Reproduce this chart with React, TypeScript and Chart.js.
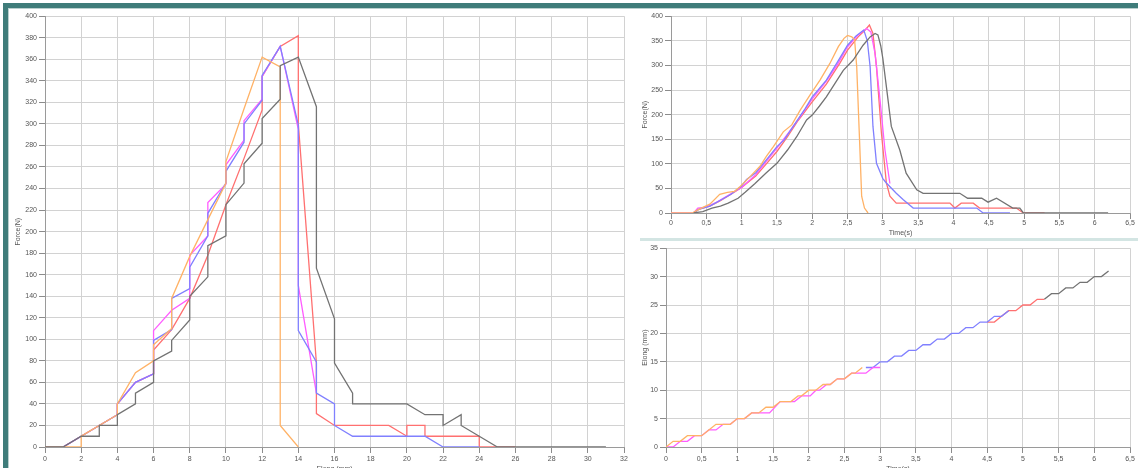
import React, { useEffect, useRef } from 'react';
import { Chart, registerables } from 'chart.js';

Chart.register(...registerables);

type Pt = [number, number];

const FONT = 'Liberation Sans, Arial, sans-serif';

const GRAY = '#737373';
const ORANGE = '#ffb266';
const BLUE = '#8080ff';
const MAGENTA = '#ff5cff';
const RED = '#ff7070';

// ---------- Left chart: Force (N) vs Elong (mm) ----------
const leftXTickLabels = ['0', '2', '4', '6', '8', '10', '12', '14', '16', '18', '20', '22', '24', '26', '28', '30', '32'];
const leftYTickLabels = ['0', '20', '40', '60', '80', '100', '120', '140', '160', '180', '200', '220', '240', '260', '280', '300', '320', '340', '360', '380', '400'];

const grayForceElong: Pt[] = [[0,0],[1,0],[2,10],[3,10],[3,20],[4,20],[4,30],[5,40],[5,50],[6,60],[6,80],[7,89],[7,99],[8,118],[8,140],[9,158],[9,187],[10,196],[10,225],[11,245],[11,263],[12,282],[12,305],[13,323],[13,354],[14,362],[15,316],[15,166],[16,119],[16,78],[17,50],[17,40],[20,40],[21,30],[22,30],[22,20],[23,30],[23,20],[25,0],[31,0]];
const orangeForceElong: Pt[] = [[0,0],[2,0],[2,10],[4,30],[4,40],[5,69],[6,80],[6,95],[7,110],[7,138],[8,177],[10,245],[10,265],[11,314],[12,362],[13,353],[13,20],[14,0]];
const blueForceElong: Pt[] = [[0,0],[1,0],[2,10],[4,30],[4,40],[5,60],[6,68],[6,99],[7,109],[7,138],[8,147],[8,167],[9,196],[9,217],[10,245],[10,256],[11,283],[11,300],[12,322],[12,345],[13,372],[14,299],[14,108],[15,79],[15,50],[16,40],[16,20],[17,10],[21,10],[22,0],[24,0]];
const magentaForceElong: Pt[] = [[0,0],[1,0],[2,10],[4,30],[4,40],[5,60],[6,68],[6,108],[7,127],[8,138],[8,178],[9,196],[9,227],[10,244],[10,262],[11,285],[11,303],[12,323],[12,344],[13,372],[14,295],[14,150],[15,50]];
const redForceElong: Pt[] = [[0,0],[1,0],[2,10],[4,30],[4,40],[5,60],[6,68],[6,90],[7,109],[8,138],[9,178],[10,225],[11,268],[12,313],[12,344],[13,372],[14,382],[14,300],[15,78],[15,31],[16,20],[19,20],[20,10],[20,20],[21,20],[21,10],[24,10],[24,0],[26,0]];

// ---------- Top right: Force (N) vs Time (s) ----------
const timeTickLabels = ['0', '0,5', '1', '1,5', '2', '2,5', '3', '3,5', '4', '4,5', '5', '5,5', '6', '6,5'];
const forceTickLabels = ['0', '50', '100', '150', '200', '250', '300', '350', '400'];

const grayForceTime: Pt[] = [[0.32,0],[0.45,3],[0.58,10],[0.7,14],[0.81,20],[0.95,30],[1.05,42],[1.19,60],[1.35,82],[1.5,101],[1.65,128],[1.78,155],[1.92,189],[2.0,199],[2.1,217],[2.2,236],[2.32,263],[2.44,290],[2.58,311],[2.72,341],[2.82,358],[2.89,365],[2.93,362],[2.97,340],[3.0,314],[3.05,257],[3.12,176],[3.24,128],[3.33,81],[3.48,47],[3.57,40],[4.09,40],[4.2,30],[4.4,30],[4.49,22],[4.61,30],[4.84,10],[4.94,10],[4.99,0],[6.19,0]];
const orangeForceTime: Pt[] = [[0,0],[0.3,0],[0.4,8],[0.55,18],[0.69,38],[0.8,42],[0.9,44],[0.98,54],[1.12,74],[1.26,95],[1.35,115],[1.45,135],[1.59,165],[1.71,179],[1.83,209],[1.97,240],[2.11,270],[2.25,304],[2.37,338],[2.45,355],[2.5,361],[2.56,358],[2.6,352],[2.63,297],[2.67,149],[2.7,34],[2.74,10],[2.79,0]];
const blueForceTime: Pt[] = [[0.32,0],[0.4,8],[0.55,14],[0.7,26],[0.85,38],[1.0,55],[1.07,68],[1.2,82],[1.35,108],[1.5,135],[1.6,148],[1.75,180],[1.9,212],[2.0,236],[2.2,270],[2.35,305],[2.5,341],[2.62,360],[2.73,372],[2.78,350],[2.82,297],[2.86,176],[2.91,101],[3.0,70],[3.05,61],[3.19,40],[3.29,27],[3.43,10],[4.33,10],[4.42,0],[4.8,0]];
const magentaForceTime: Pt[] = [[0,0],[0.32,0],[0.38,10],[0.5,12],[0.65,22],[0.8,35],[1.0,52],[1.2,78],[1.35,105],[1.5,132],[1.7,170],[1.85,200],[2.0,232],[2.2,268],[2.35,300],[2.5,338],[2.65,362],[2.77,375],[2.83,368],[2.89,324],[2.96,230],[3.03,128],[3.1,60]];
const redForceTime: Pt[] = [[0.32,0],[0.4,8],[0.55,14],[0.7,25],[0.85,38],[1.0,52],[1.2,75],[1.35,100],[1.5,125],[1.65,155],[1.8,188],[2.0,226],[2.2,262],[2.39,304],[2.5,331],[2.65,358],[2.75,372],[2.81,382],[2.86,365],[2.91,297],[2.98,162],[3.05,61],[3.1,34],[3.19,20],[3.95,20],[4.02,10],[4.11,20],[4.28,20],[4.37,10],[4.89,10],[4.99,0],[5.29,0]];

// ---------- Bottom right: Elong (mm) vs Time (s) ----------
const elongTickLabels = ['0', '5', '10', '15', '20', '25', '30', '35'];

const orangeElongTime: Pt[] = [[0,0],[0.1,1],[0.2,1],[0.3,2],[0.5,2],[0.6,3],[0.7,4],[0.8,4],[0.9,4],[1.0,5],[1.1,5],[1.2,6],[1.3,6],[1.4,7],[1.5,7],[1.6,8],[1.75,8],[1.85,9],[1.9,9],[2.0,10],[2.1,10],[2.2,11],[2.3,11],[2.4,12],[2.5,12],[2.6,13],[2.65,13],[2.75,14]];
const magentaElongTime: Pt[] = [[0,0],[0.1,0],[0.2,1],[0.3,1],[0.4,2],[0.5,2],[0.6,3],[0.7,3],[0.8,4],[0.9,4],[1.0,5],[1.1,5],[1.2,6],[1.45,6],[1.6,8],[1.8,8],[1.9,9],[2.02,9],[2.1,10],[2.15,10],[2.25,11],[2.3,11],[2.4,12],[2.5,12],[2.6,13],[2.8,13],[2.9,14],[3.0,14]];
const blueElongTime: Pt[] = [[2.8,14],[2.9,14],[3.0,15],[3.1,15],[3.2,16],[3.3,16],[3.4,17],[3.5,17],[3.6,18],[3.7,18],[3.8,19],[3.9,19],[4.0,20],[4.1,20],[4.2,21],[4.3,21],[4.4,22],[4.5,22],[4.6,23],[4.7,23],[4.8,24]];
const redElongTime: Pt[] = [[4.5,22],[4.6,22],[4.7,23],[4.8,24],[4.9,24],[5.0,25],[5.1,25],[5.2,26],[5.3,26]];
const grayElongTime: Pt[] = [[5.3,26],[5.4,27],[5.5,27],[5.6,28],[5.7,28],[5.8,29],[5.9,29],[6.0,30],[6.1,30],[6.2,31]];

interface Series { color: string; points: Pt[] }
interface AxisCfg {
  min: number; max: number; step: number; labels: string[]; title: string;
  size: number; titlePad: { top: number; bottom: number }; tickPad: number;
}

function axis(c: AxisCfg, id: 'x' | 'y') {
  return {
    type: 'linear',
    min: c.min,
    max: c.max,
    ticks: {
      stepSize: c.step,
      autoSkip: false,
      maxRotation: 0,
      minRotation: 0,
      padding: c.tickPad,
      color: '#555',
      font: { family: FONT, size: 7 },
      callback: (_v: any, i: number) => c.labels[i] ?? '',
    },
    grid: { color: '#d2d2d2', lineWidth: 1, tickLength: 6, tickColor: '#8c8c8c', drawTicks: true },
    border: { display: true, color: '#9a9a9a', width: 1 },
    title: { display: true, text: c.title, color: '#555', font: { family: FONT, size: 7 }, padding: c.titlePad },
    afterFit: (s: any) => {
      if (id === 'x') s.height = c.size;
      else s.width = c.size;
    },
  };
}

interface PanelProps {
  left: number; top: number; width: number; height: number;
  series: Series[]; x: AxisCfg; y: AxisCfg; padRight: number; padTop: number;
}

function Panel(p: PanelProps) {
  const ref = useRef<HTMLCanvasElement>(null);
  useEffect(() => {
    const chart = new Chart(ref.current as HTMLCanvasElement, {
      type: 'scatter',
      data: {
        datasets: p.series.map((s) => ({
          data: s.points.map(([x, y]) => ({ x, y })),
          borderColor: s.color,
          backgroundColor: s.color,
          borderWidth: 1.3,
          showLine: true,
          pointRadius: 0,
          pointHoverRadius: 0,
          tension: 0,
        })),
      },
      options: {
        animation: false,
        responsive: false,
        maintainAspectRatio: false,
        events: [],
        layout: { padding: { left: 0, top: p.padTop, right: p.padRight, bottom: 0 } },
        plugins: { legend: { display: false }, tooltip: { enabled: false } },
        scales: { x: axis(p.x, 'x') as any, y: axis(p.y, 'y') as any },
      },
    });
    return () => chart.destroy();
  }, []);
  return (
    <canvas
      ref={ref}
      width={p.width}
      height={p.height}
      style={{ position: 'absolute', left: p.left, top: p.top, width: p.width, height: p.height }}
    />
  );
}

export default function App() {
  const teal = '#3f7c7a';
  return (
    <div style={{ position: 'fixed', left: 0, top: 0, width: 1138, height: 468, overflow: 'hidden', background: '#fff' }}>
      <Panel
        left={10} top={10} width={630} height={470} padRight={16} padTop={6}
        series={[
          { color: GRAY, points: grayForceElong },
          { color: ORANGE, points: orangeForceElong },
          { color: BLUE, points: blueForceElong },
          { color: MAGENTA, points: magentaForceElong },
          { color: RED, points: redForceElong },
        ]}
        x={{ min: 0, max: 32, step: 2, labels: leftXTickLabels, title: 'Elong (mm)', size: 33, titlePad: { top: 0, bottom: 7 }, tickPad: 2 }}
        y={{ min: 0, max: 400, step: 20, labels: leftYTickLabels, title: 'Force(N)', size: 35, titlePad: { top: 4, bottom: 0 }, tickPad: 2 }}
      />
      <Panel
        left={640} top={10} width={498} height={230} padRight={8} padTop={6}
        series={[
          { color: GRAY, points: grayForceTime },
          { color: ORANGE, points: orangeForceTime },
          { color: BLUE, points: blueForceTime },
          { color: MAGENTA, points: magentaForceTime },
          { color: RED, points: redForceTime },
        ]}
        x={{ min: 0, max: 6.5, step: 0.5, labels: timeTickLabels, title: 'Time(s)', size: 27, titlePad: { top: 0, bottom: 3 }, tickPad: 0 }}
        y={{ min: 0, max: 400, step: 50, labels: forceTickLabels, title: 'Force(N)', size: 31, titlePad: { top: 1, bottom: 0 }, tickPad: 2 }}
      />
      <Panel
        left={640} top={242} width={498} height={238} padRight={8} padTop={6}
        series={[
          { color: ORANGE, points: orangeElongTime },
          { color: MAGENTA, points: magentaElongTime },
          { color: BLUE, points: blueElongTime },
          { color: RED, points: redElongTime },
          { color: GRAY, points: grayElongTime },
        ]}
        x={{ min: 0, max: 6.5, step: 0.5, labels: timeTickLabels, title: 'Time(s)', size: 33, titlePad: { top: 0, bottom: 7 }, tickPad: 2 }}
        y={{ min: 0, max: 35, step: 5, labels: elongTickLabels, title: 'Elong (mm)', size: 26, titlePad: { top: 1, bottom: 0 }, tickPad: 2 }}
      />
      <div style={{ position: 'absolute', left: 3, top: 3, width: 1135, height: 5, background: teal }} />
      <div style={{ position: 'absolute', left: 3, top: 3, width: 5, height: 465, background: teal }} />
      <div style={{ position: 'absolute', left: 8, top: 8, width: 1130, height: 1, background: '#b9cfcd' }} />
      <div style={{ position: 'absolute', left: 8, top: 8, width: 1, height: 460, background: '#b9cfcd' }} />
      <div style={{ position: 'absolute', left: 640, top: 238, width: 498, height: 3, background: '#d3e5e3' }} />
    </div>
  );
}
